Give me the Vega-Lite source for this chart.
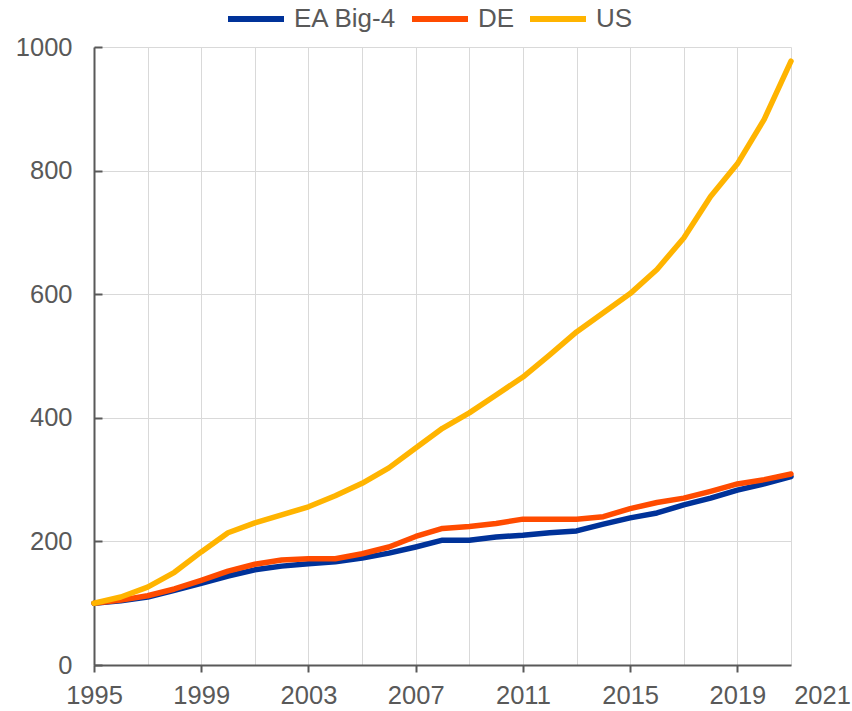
{
  "$schema": "https://vega.github.io/schema/vega-lite/v6.json",
  "width": 697,
  "height": 618,
  "autosize": "none",
  "padding": {"left": 94, "top": 47, "right": 61, "bottom": 46},
  "background": "white",
  "config": {
    "view": {"stroke": null},
    "font": "Liberation Sans",
    "axis": {"labelFont": "Liberation Sans", "labelFontSize": 25.5, "labelColor": "#595959", "gridColor": "#d9d9d9", "gridWidth": 1, "domainColor": "#595959", "domainWidth": 2, "tickColor": "#595959", "tickWidth": 2, "title": null},
    "legend": {"labelFont": "Liberation Sans", "labelFontSize": 26, "labelColor": "#595959"}
  },
  "data": {
    "values": [
      {"year": 1995, "series": "EA Big-4", "value": 100},
      {"year": 1996, "series": "EA Big-4", "value": 104},
      {"year": 1997, "series": "EA Big-4", "value": 110},
      {"year": 1998, "series": "EA Big-4", "value": 121},
      {"year": 1999, "series": "EA Big-4", "value": 132},
      {"year": 2000, "series": "EA Big-4", "value": 144},
      {"year": 2001, "series": "EA Big-4", "value": 154},
      {"year": 2002, "series": "EA Big-4", "value": 160},
      {"year": 2003, "series": "EA Big-4", "value": 164},
      {"year": 2004, "series": "EA Big-4", "value": 167},
      {"year": 2005, "series": "EA Big-4", "value": 173},
      {"year": 2006, "series": "EA Big-4", "value": 181},
      {"year": 2007, "series": "EA Big-4", "value": 191},
      {"year": 2008, "series": "EA Big-4", "value": 202},
      {"year": 2009, "series": "EA Big-4", "value": 202},
      {"year": 2010, "series": "EA Big-4", "value": 207},
      {"year": 2011, "series": "EA Big-4", "value": 210},
      {"year": 2012, "series": "EA Big-4", "value": 214},
      {"year": 2013, "series": "EA Big-4", "value": 217},
      {"year": 2014, "series": "EA Big-4", "value": 228},
      {"year": 2015, "series": "EA Big-4", "value": 238},
      {"year": 2016, "series": "EA Big-4", "value": 246},
      {"year": 2017, "series": "EA Big-4", "value": 259},
      {"year": 2018, "series": "EA Big-4", "value": 270},
      {"year": 2019, "series": "EA Big-4", "value": 283},
      {"year": 2020, "series": "EA Big-4", "value": 293},
      {"year": 2021, "series": "EA Big-4", "value": 305},
      {"year": 1995, "series": "DE", "value": 100},
      {"year": 1996, "series": "DE", "value": 105},
      {"year": 1997, "series": "DE", "value": 112},
      {"year": 1998, "series": "DE", "value": 123},
      {"year": 1999, "series": "DE", "value": 137},
      {"year": 2000, "series": "DE", "value": 152},
      {"year": 2001, "series": "DE", "value": 163},
      {"year": 2002, "series": "DE", "value": 170},
      {"year": 2003, "series": "DE", "value": 172},
      {"year": 2004, "series": "DE", "value": 172},
      {"year": 2005, "series": "DE", "value": 180},
      {"year": 2006, "series": "DE", "value": 191},
      {"year": 2007, "series": "DE", "value": 208},
      {"year": 2008, "series": "DE", "value": 221},
      {"year": 2009, "series": "DE", "value": 224},
      {"year": 2010, "series": "DE", "value": 229},
      {"year": 2011, "series": "DE", "value": 236},
      {"year": 2012, "series": "DE", "value": 236},
      {"year": 2013, "series": "DE", "value": 236},
      {"year": 2014, "series": "DE", "value": 240},
      {"year": 2015, "series": "DE", "value": 253},
      {"year": 2016, "series": "DE", "value": 263},
      {"year": 2017, "series": "DE", "value": 270},
      {"year": 2018, "series": "DE", "value": 281},
      {"year": 2019, "series": "DE", "value": 293},
      {"year": 2020, "series": "DE", "value": 300},
      {"year": 2021, "series": "DE", "value": 309},
      {"year": 1995, "series": "US", "value": 100},
      {"year": 1996, "series": "US", "value": 110},
      {"year": 1997, "series": "US", "value": 126},
      {"year": 1998, "series": "US", "value": 150},
      {"year": 1999, "series": "US", "value": 183},
      {"year": 2000, "series": "US", "value": 214},
      {"year": 2001, "series": "US", "value": 230},
      {"year": 2002, "series": "US", "value": 243},
      {"year": 2003, "series": "US", "value": 256},
      {"year": 2004, "series": "US", "value": 274},
      {"year": 2005, "series": "US", "value": 294},
      {"year": 2006, "series": "US", "value": 319},
      {"year": 2007, "series": "US", "value": 351},
      {"year": 2008, "series": "US", "value": 383},
      {"year": 2009, "series": "US", "value": 408},
      {"year": 2010, "series": "US", "value": 437},
      {"year": 2011, "series": "US", "value": 466},
      {"year": 2012, "series": "US", "value": 502},
      {"year": 2013, "series": "US", "value": 539},
      {"year": 2014, "series": "US", "value": 570},
      {"year": 2015, "series": "US", "value": 601},
      {"year": 2016, "series": "US", "value": 640},
      {"year": 2017, "series": "US", "value": 691},
      {"year": 2018, "series": "US", "value": 758},
      {"year": 2019, "series": "US", "value": 811},
      {"year": 2020, "series": "US", "value": 883},
      {"year": 2021, "series": "US", "value": 977}
    ]
  },
  "mark": {"type": "line", "strokeWidth": 5.5, "strokeCap": "round", "strokeJoin": "round"},
  "encoding": {
    "x": {
      "field": "year",
      "type": "quantitative",
      "scale": {"domain": [1995, 2021], "nice": false, "zero": false},
      "axis": {
        "values": [1995, 1997, 1999, 2001, 2003, 2005, 2007, 2009, 2011, 2013, 2015, 2017, 2019, 2021],
        "labelExpr": "((datum.value - 1995) % 4 == 0 || datum.value == 2021) ? format(datum.value, 'd') : ''",
        "labelOffset": {"expr": "datum.value == 2021 ? 31 : 0"},
        "tickOpacity": {"expr": "(datum.value - 1995) % 4 == 0 ? 1 : 0"},
        "tickSize": 7,
        "labelPadding": 11,
        "grid": true,
        "labelFlush": false,
        "labelOverlap": false
      }
    },
    "y": {
      "field": "value",
      "type": "quantitative",
      "scale": {"domain": [0, 1000], "nice": false},
      "axis": {
        "values": [0, 200, 400, 600, 800, 1000],
        "format": "d",
        "tickSize": -8,
        "labelPadding": 30,
        "grid": true,
        "labelFlush": false
      }
    },
    "color": {
      "field": "series",
      "type": "nominal",
      "sort": ["EA Big-4", "DE", "US"],
      "scale": {"domain": ["EA Big-4", "DE", "US"], "range": ["#003299", "#ff4b00", "#ffb400"]},
      "legend": {
        "title": null,
        "orient": "none",
        "direction": "horizontal",
        "legendX": 131,
        "legendY": -59,
        "symbolType": "stroke",
        "symbolSize": 3136,
        "symbolStrokeWidth": 6,
        "labelOffset": 7,
        "columnPadding": 3,
        "padding": 0
      }
    }
  }
}
